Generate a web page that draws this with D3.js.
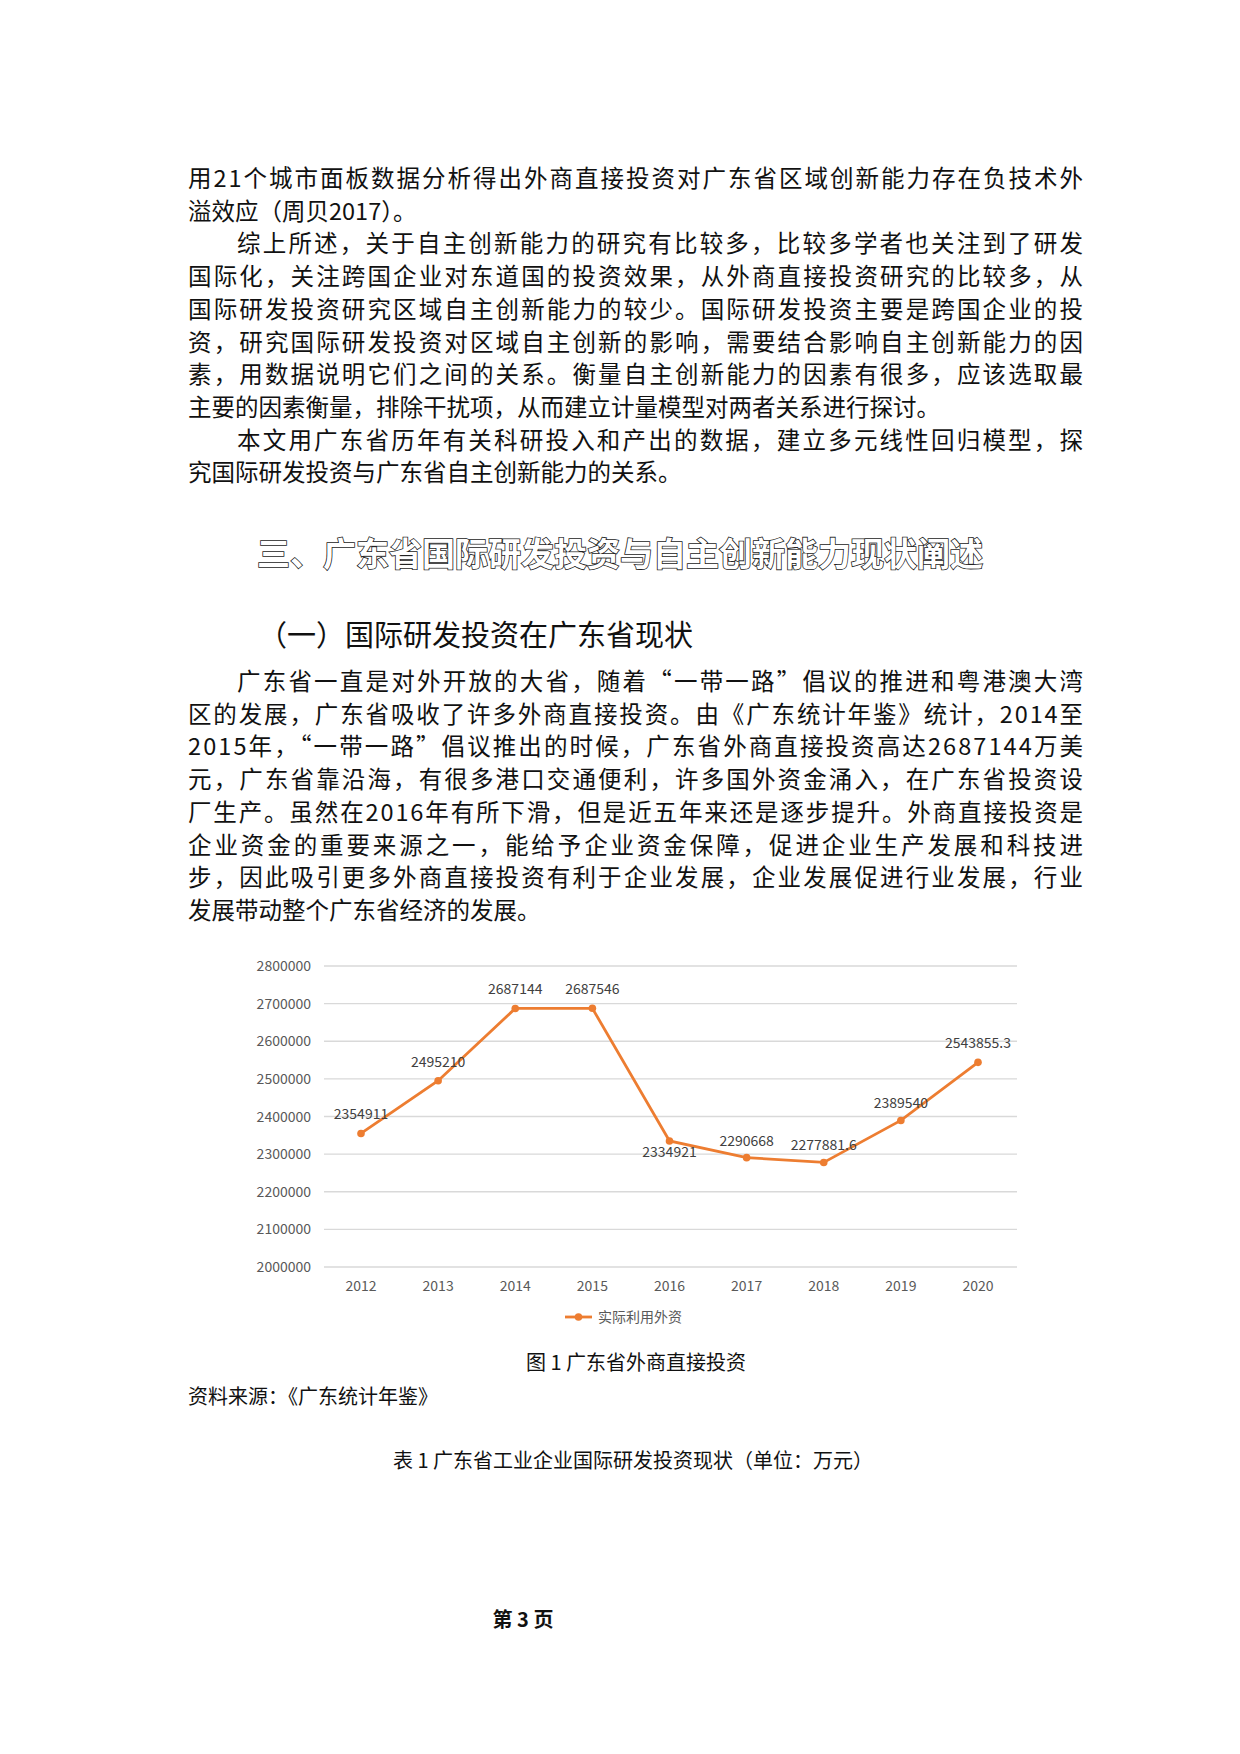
<!DOCTYPE html>
<html><head><meta charset="utf-8">
<script src="https://cdn.jsdelivr.net/npm/d3@7/dist/d3.min.js"></script>
<style>body{margin:0;background:#fff}svg{display:block}</style>
</head><body>
<svg id="p" width="1240" height="1754"></svg>
<script>
const years = ["2012","2013","2014","2015","2016","2017","2018","2019","2020"];
const values = [2354911,2495210,2687144,2687546,2334921,2290668,2277881.6,2389540,2543855.3];
const valueLabels = ["2354911","2495210","2687144","2687546","2334921","2290668","2277881.6","2389540","2543855.3"];
const yTicks = [2000000,2100000,2200000,2300000,2400000,2500000,2600000,2700000,2800000];
const seriesName = "实际利用外资";

const para1 = [
 ["用21个城市面板数据分析得出外商直接投资对广东省区域创新能力存在负技术外",0,1],
 ["溢效应（周贝2017）。",0,0],
 ["综上所述，关于自主创新能力的研究有比较多，比较多学者也关注到了研发",1,1],
 ["国际化，关注跨国企业对东道国的投资效果，从外商直接投资研究的比较多，从",0,1],
 ["国际研发投资研究区域自主创新能力的较少。国际研发投资主要是跨国企业的投",0,1],
 ["资，研究国际研发投资对区域自主创新的影响，需要结合影响自主创新能力的因",0,1],
 ["素，用数据说明它们之间的关系。衡量自主创新能力的因素有很多，应该选取最",0,1],
 ["主要的因素衡量，排除干扰项，从而建立计量模型对两者关系进行探讨。",0,0],
 ["本文用广东省历年有关科研投入和产出的数据，建立多元线性回归模型，探",1,1],
 ["究国际研发投资与广东省自主创新能力的关系。",0,0]];
const para2 = [
 ["广东省一直是对外开放的大省，随着“一带一路”倡议的推进和粤港澳大湾",1,1],
 ["区的发展，广东省吸收了许多外商直接投资。由《广东统计年鉴》统计，2014至",0,1],
 ["2015年，“一带一路”倡议推出的时候，广东省外商直接投资高达2687144万美",0,1],
 ["元，广东省靠沿海，有很多港口交通便利，许多国外资金涌入，在广东省投资设",0,1],
 ["厂生产。虽然在2016年有所下滑，但是近五年来还是逐步提升。外商直接投资是",0,1],
 ["企业资金的重要来源之一，能给予企业资金保障，促进企业生产发展和科技进",0,1],
 ["步，因此吸引更多外商直接投资有利于企业发展，企业发展促进行业发展，行业",0,1],
 ["发展带动整个广东省经济的发展。",0,0]];

const svg = d3.select("#p");
const F = "'Noto Sans CJK SC','Noto Sans',sans-serif";
const L = 188, R = 1083, lh = 32.7, fs = 23.5;
function para(lines, y0){
  lines.forEach((d,i)=>{
    const x = L + (d[1]? 2*fs+2 : 0);
    const t = svg.append("text").attr("x",x).attr("y",y0+i*lh).attr("font-family",F)
      .attr("font-size",fs).attr("fill","#111").text(d[0]);
    if(d[2]) t.attr("textLength",R-x).attr("lengthAdjust","spacing");
  });
}
para(para1, 187);
svg.append("text").attr("x",620).attr("y",566).attr("text-anchor","middle").attr("font-family",F)
  .attr("font-size",33).attr("font-weight","bold").attr("fill","#fff").attr("stroke","#222").attr("stroke-width",1.6)
  .attr("paint-order","stroke").text("三、广东省国际研发投资与自主创新能力现状阐述");
svg.append("text").attr("x",258).attr("y",646).attr("font-family",F).attr("font-size",29).attr("fill","#111")
  .text("（一）国际研发投资在广东省现状");
para(para2, 690);

// chart
const x = d3.scalePoint().domain(years).range([361,978]);
const y = d3.scaleLinear().domain([2000000,2800000]).range([1267,966]);
const g = svg.append("g").attr("font-family",F);
g.selectAll(".gl").data(yTicks).join("line").attr("x1",324).attr("x2",1017)
  .attr("y1",d=>y(d)).attr("y2",d=>y(d)).attr("stroke","#d9d9d9").attr("stroke-width",1.3);
g.selectAll(".yl").data(yTicks).join("text").attr("x",311).attr("y",d=>y(d)+5).attr("text-anchor","end")
  .attr("font-size",14).attr("fill","#595959").text(d=>d);
g.selectAll(".xl").data(years).join("text").attr("x",d=>x(d)).attr("y",1291).attr("text-anchor","middle")
  .attr("font-size",14).attr("fill","#595959").text(d=>d);
const c="#ED7D31";
g.append("path").datum(values).attr("fill","none").attr("stroke",c).attr("stroke-width",2.8)
  .attr("d",d3.line().x((d,i)=>x(years[i])).y(d=>y(d)));
g.selectAll(".pt").data(values).join("circle").attr("cx",(d,i)=>x(years[i])).attr("cy",d=>y(d)).attr("r",3.8).attr("fill",c);
g.selectAll(".dl").data(values).join("text").attr("x",(d,i)=>x(years[i])).attr("y",(d,i)=>y(d)-(i===2||i===3?14:[0,1].includes(i)?14:i===8?14:i===7?12:i===4?-16:12))
  .attr("text-anchor","middle").attr("font-size",14).attr("fill","#404040").text((d,i)=>valueLabels[i]);
g.append("line").attr("x1",565).attr("x2",592).attr("y1",1317).attr("y2",1317).attr("stroke",c).attr("stroke-width",2.8);
g.append("circle").attr("cx",578.5).attr("cy",1317).attr("r",3.8).attr("fill",c);
g.append("text").attr("x",598).attr("y",1322).attr("font-size",14).attr("fill","#595959").text(seriesName);

svg.append("text").attr("x",636).attr("y",1370).attr("text-anchor","middle").attr("font-family",F).attr("font-size",20).attr("fill","#111").text("图 1 广东省外商直接投资");
svg.append("text").attr("x",188).attr("y",1404).attr("font-family",F).attr("font-size",20).attr("fill","#111").text("资料来源：《广东统计年鉴》");
svg.append("text").attr("x",633).attr("y",1468).attr("text-anchor","middle").attr("font-family",F).attr("font-size",20).attr("fill","#111").text("表 1 广东省工业企业国际研发投资现状（单位：万元）");
svg.append("text").attr("x",523).attr("y",1627).attr("text-anchor","middle").attr("font-family",F).attr("font-size",20).attr("font-weight","bold").attr("fill","#111").text("第 3 页");
</script></body></html>
